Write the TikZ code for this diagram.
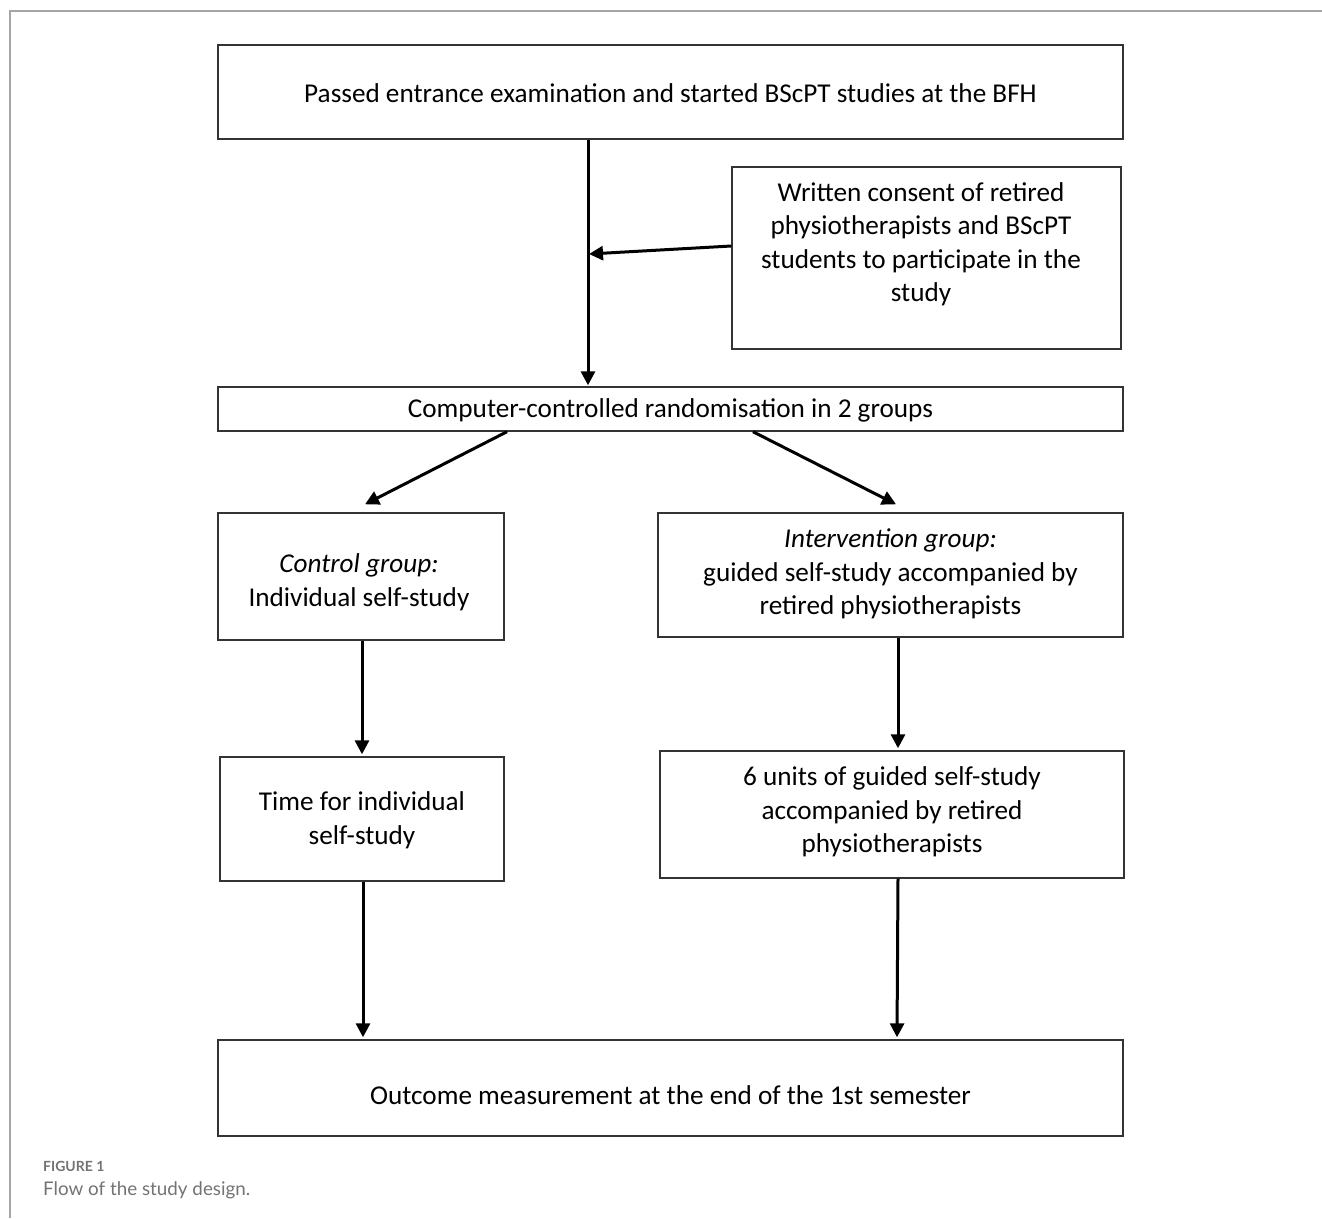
\documentclass[tikz,border=0pt]{standalone}
\usepackage{fontspec}
\setmainfont{Carlito}
\newfontfamily\capfont{Lato}
\usetikzlibrary{arrows.meta,calc}
\begin{document}
\begin{tikzpicture}[x=1pt,y=-1pt,
  box/.style={draw=black!80, line width=1.4pt, rectangle, inner sep=0pt},
  txt/.style={font=\fontsize{27.2}{33.5}\selectfont, align=center, inner sep=0pt},
  arr/.style={line width=3pt, -{Triangle[length=14pt,width=14pt]}},
  framestyle/.style={draw=black!35, line width=1.5pt},
  caplabel/.style={anchor=base west, inner sep=0pt, text=black!55}]
\useasboundingbox (0,0) rectangle (1322,1218);
\draw[framestyle] (10,1218) -- (10,11) -- (1322,11);

% boxes
\node[box, minimum width=905pt, minimum height=94pt] (top) at (670.5,92) {};
\node[box, minimum width=389pt, minimum height=182pt] (consent) at (926.5,258) {};
\node[box, minimum width=905pt, minimum height=44pt] (random) at (670.5,409) {};
\node[box, minimum width=286pt, minimum height=127pt] (control) at (361,576.5) {};
\node[box, minimum width=465pt, minimum height=124pt] (interv) at (890.5,575) {};
\node[box, minimum width=284pt, minimum height=124pt] (time) at (362,819) {};
\node[box, minimum width=464pt, minimum height=127pt] (units) at (892,814.5) {};
\node[box, minimum width=905pt, minimum height=96pt] (outcome) at (670.5,1088) {};

% texts
\node[txt] (topT) at (670.5,93) {Passed entrance examination and started BScPT studies at the BFH};
\node[txt] (consentT) at (921,244) {Written consent of retired\\physiotherapists and BScPT\\students to participate in the\\study};
\node[txt] (randomT) at (670.5,410) {Computer-controlled randomisation in 2 groups};
\node[txt] (controlT) at (359,582) {\itshape Control group:\\Individual self-study};
\node[txt] (intervT) at (890.5,574) {\itshape Intervention group:\\guided self-study accompanied by\\retired physiotherapists};
\node[txt] (timeT) at (362,820) {Time for individual\\self-study};
\node[txt] (unitsT) at (892,812) {6 units of guided self-study\\accompanied by retired\\physiotherapists};
\node[txt] (outcomeT) at (670.5,1095) {Outcome measurement at the end of the 1st semester};

% connectors
\coordinate (joinpt) at (589,254);
\draw[line width=3pt] (588,0 |- top.south) -- ($(588,0 |- random.north)+(0,-10)$);
\draw[arr] (588,0 |- top.south) -- ($(588,0 |- random.north)+(0,-1)$);
\draw[arr] ($(consent.west |- 0,246)$) -- (joinpt);
\draw[arr] (507,0 |- random.south) -- ($(control.north)+(4,-8)$);
\draw[arr] (753,0 |- random.south) -- ($(interv.north)+(5.5,-8)$);
\draw[arr] (362,0 |- control.south) -- ($(362,0 |- time.north)+(0,-2)$);
\draw[arr] (898,0 |- interv.south) -- ($(898,0 |- units.north)+(0,-2)$);
\draw[arr] (363,0 |- time.south) -- ($(363,0 |- outcome.north)+(0,-2)$);
\draw[arr] (898,0 |- units.south) -- ($(897,0 |- outcome.north)+(0,-2)$);

% caption
\node[caplabel, font=\capfont\bfseries\fontsize{14}{16}\selectfont] (figlabel) at (43,1171) {FIGURE 1};
\node[caplabel, font=\capfont\fontsize{18.8}{23}\selectfont] (figcap) at (43,1195) {Flow of the study design.};
\end{tikzpicture}
\end{document}
